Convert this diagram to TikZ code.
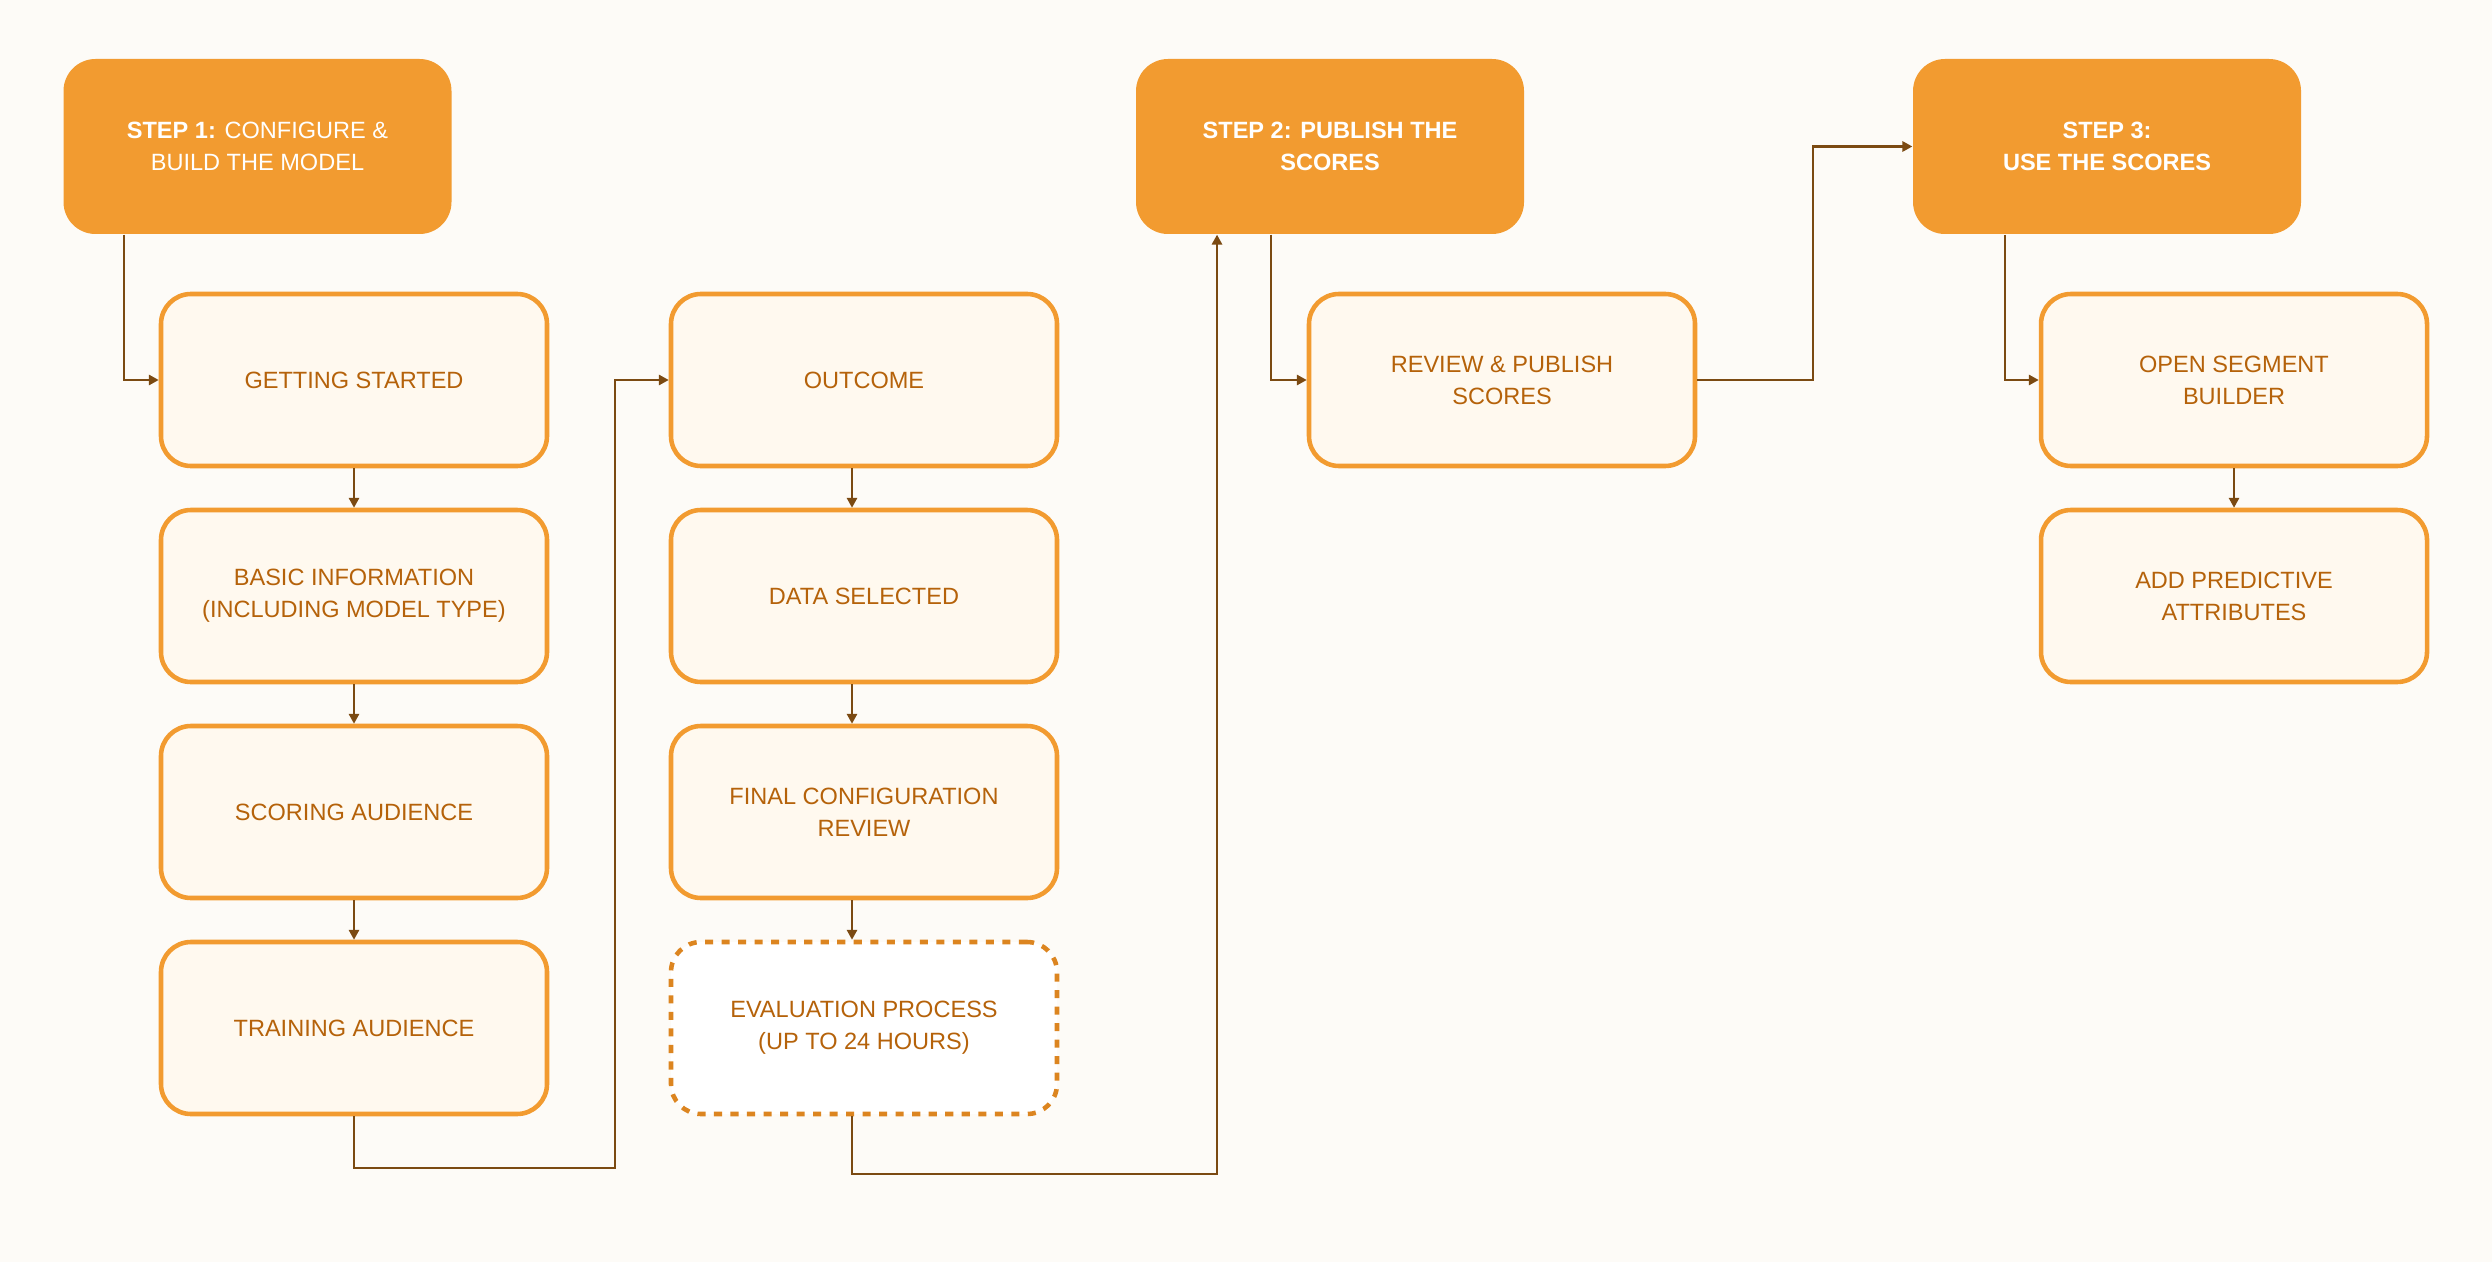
\documentclass[tikz,border=0pt]{standalone}
\usepackage{fontspec}
\setmainfont{Liberation Sans}
\usetikzlibrary{shapes,positioning,calc,arrows.meta}
\definecolor{bgC}{HTML}{FDFBF7}
\definecolor{headC}{HTML}{F29B30}
\definecolor{boxC}{HTML}{FFF9EF}
\definecolor{lineC}{HTML}{F29B30}
\definecolor{dashC}{HTML}{DC8520}
\definecolor{textC}{HTML}{B5620A}
\definecolor{linkC}{HTML}{7B4A12}

\begin{document}
\begin{tikzpicture}
  [headN/.style={rectangle,rounded corners=0.32cm,fill=headC,text=white,minimum width=3.88cm,minimum height=1.75cm,align=center,font=\fontsize{6.7}{9.1}\selectfont},
   boxN/.style={rectangle,rounded corners=0.3cm,draw=lineC,line width=1.3pt,fill=boxC,text=textC,minimum width=3.86cm,minimum height=1.72cm,align=center,font=\fontsize{6.7}{9.1}\selectfont},
   waitN/.style={boxN,draw=dashC,fill=white,dash pattern=on 2.3pt off 2.4pt},
   flowL/.style={draw=linkC,line width=0.6pt,-{Triangle[length=2.8pt,width=2.9pt]}}]

  \fill[bgC] (0,0) rectangle (24.92,-12.62);
  \useasboundingbox (0,0) rectangle (24.92,-12.62);

  % headers
  \node[headN] (step1) at (2.575,-1.465) {\textbf{STEP 1:} CONFIGURE \&\\BUILD THE MODEL};
  \node[headN] (step2) at (13.30,-1.465) {\textbf{STEP 2: PUBLISH THE}\\\textbf{SCORES}};
  \node[headN] (step3) at (21.07,-1.465) {\textbf{STEP 3:}\\\textbf{USE THE SCORES}};

  % step 1
  \node[boxN] (start) at (3.54,-3.80)  {GETTING STARTED};
  \node[boxN] (basic) at (3.54,-5.96)  {BASIC INFORMATION\\(INCLUDING MODEL TYPE)};
  \node[boxN] (score) at (3.54,-8.12)  {SCORING AUDIENCE};
  \node[boxN] (train) at (3.54,-10.28) {TRAINING AUDIENCE};

  \node[boxN]  (outcome) at (8.64,-3.80)  {OUTCOME};
  \node[boxN]  (data)    at (8.64,-5.96)  {DATA SELECTED};
  \node[boxN]  (final)   at (8.64,-8.12)  {FINAL CONFIGURATION\\REVIEW};
  \node[waitN] (eval)    at (8.64,-10.28) {EVALUATION PROCESS\\(UP TO 24 HOURS)};

  % step 2 and 3
  \node[boxN] (review) at (15.02,-3.80) {REVIEW \& PUBLISH\\SCORES};
  \node[boxN] (open)   at (22.34,-3.80) {OPEN SEGMENT\\BUILDER};
  \node[boxN] (attr)   at (22.34,-5.96) {ADD PREDICTIVE\\ATTRIBUTES};

  \coordinate (bendA) at (6.15,-11.68);
  \coordinate (bendB) at (12.17,-11.74);

  \draw [flowL] ([xshift=-13.35mm]step1.south) |- (start.west);
  \draw [flowL] (start.south) -- (basic.north);
  \draw [flowL] (basic.south) -- (score.north);
  \draw [flowL] (score.south) -- (train.north);
  \draw [flowL] (train.south) |- (bendA) |- (outcome.west);

  \draw [flowL] ([xshift=-1.2mm]outcome.south) -- ([xshift=-1.2mm]data.north);
  \draw [flowL] ([xshift=-1.2mm]data.south) -- ([xshift=-1.2mm]final.north);
  \draw [flowL] ([xshift=-1.2mm]final.south) -- ([xshift=-1.2mm]eval.north);
  \draw [flowL] ([xshift=-1.2mm]eval.south) |- (bendB) -- (bendB |- step2.south);

  \draw [flowL] ([xshift=-5.9mm]step2.south) |- (review.west);
  \draw [flowL] (review.east) -- ++(1.16,0) |- (step3.west);
  \draw [flowL] ([xshift=-10.2mm]step3.south) |- (open.west);
  \draw [flowL] (open.south) -- (attr.north);

\end{tikzpicture}
\end{document}
